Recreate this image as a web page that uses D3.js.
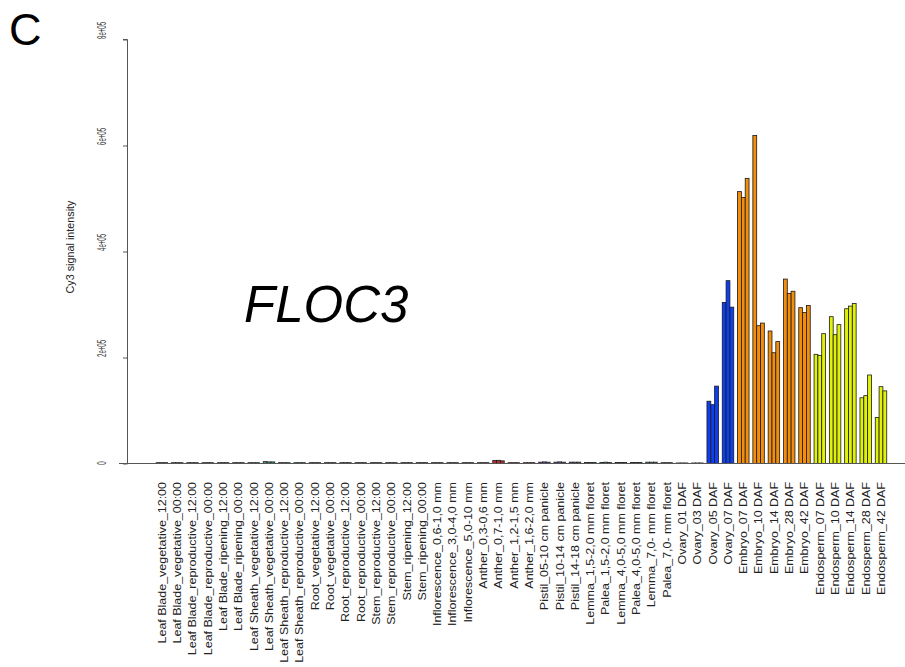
<!DOCTYPE html>
<html>
<head>
<meta charset="utf-8">
<script src="https://cdn.jsdelivr.net/npm/d3@7"></script>
<style>
  html, body { margin: 0; padding: 0; background: #fff; }
  svg { display: block; }
  text { font-family: "Liberation Sans", Arial, sans-serif; }
</style>
</head>
<body>
<svg id="chart" width="905" height="667"></svg>
<script>
const categories = [
  "Leaf Blade_vegetative_12:00","Leaf Blade_vegetative_00:00",
  "Leaf Blade_reproductive_12:00","Leaf Blade_reproductive_00:00",
  "Leaf Blade_ripening_12:00","Leaf Blade_ripening_00:00",
  "Leaf Sheath_vegetative_12:00","Leaf Sheath_vegetative_00:00",
  "Leaf Sheath_reproductive_12:00","Leaf Sheath_reproductive_00:00",
  "Root_vegetative_12:00","Root_vegetative_00:00",
  "Root_reproductive_12:00","Root_reproductive_00:00",
  "Stem_reproductive_12:00","Stem_reproductive_00:00",
  "Stem_ripening_12:00","Stem_ripening_00:00",
  "Inflorescence_0,6-1,0 mm","Inflorescence_3,0-4,0 mm","Inflorescence_5,0-10 mm",
  "Anther_0,3-0,6 mm","Anther_0,7-1,0 mm","Anther_1,2-1,5 mm","Anther_1,6-2,0 mm",
  "Pistil_05-10 cm panicle","Pistil_10-14 cm panicle","Pistil_14-18 cm panicle",
  "Lemma_1,5-2,0 mm floret","Palea_1,5-2,0 mm floret",
  "Lemma_4,0-5,0 mm floret","Palea_4,0-5,0 mm floret",
  "Lemma_7,0- mm floret","Palea_7,0- mm floret",
  "Ovary_01 DAF","Ovary_03 DAF","Ovary_05 DAF","Ovary_07 DAF",
  "Embryo_07 DAF","Embryo_10 DAF","Embryo_14 DAF","Embryo_28 DAF","Embryo_42 DAF",
  "Endosperm_07 DAF","Endosperm_10 DAF","Endosperm_14 DAF","Endosperm_28 DAF","Endosperm_42 DAF"
];

// three replicates per sample (Cy3 signal intensity)
const rep1 = [1500,1500,1500,1500,1500,1500,1500,3500,1500,1500,
              1500,1500,1500,1500,1500,1500,1500,1500,1500,1500,
              1500,1500,5500,1500,1500,2500,2500,2500,2000,2000,
              2000,2000,2500,1500,1000,1000,
              117500,304000,513000,619000,250000,348000,294000,
              206000,277000,292000,124000,87000];
const rep2 = [1500,1500,1500,1500,1500,1500,1500,3000,1500,1500,
              1500,1500,1500,1500,1500,1500,1500,1500,1500,1500,
              1500,1500,6000,1500,1500,3000,3000,2500,2000,2500,
              2000,2000,2500,1500,1000,1000,
              111000,345000,502000,260000,209000,321000,285000,
              204000,243000,297000,128000,145000];
const rep3 = [1500,1500,1500,1500,1500,1500,1500,3000,1500,1500,
              1500,1500,1500,1500,1500,1500,1500,1500,1500,1500,
              1500,1500,5000,1500,1500,2500,2500,2500,2000,2000,
              2000,2000,2500,1500,1000,1000,
              146000,295000,538000,265000,230000,325000,298000,
              245000,262000,302000,167000,137000];

const groupColors = [
  "#2a6b2a","#2a6b2a","#2a6b2a","#2a6b2a","#2a6b2a","#2a6b2a",
  "#3aa06a","#3aa06a","#3aa06a","#3aa06a",
  "#5a4030","#5a4030","#5a4030","#5a4030",
  "#404040","#404040","#404040","#404040",
  "#505050","#505050","#505050",
  "#b03030","#b03030","#b03030","#b03030",
  "#6a4aa0","#6a4aa0","#6a4aa0",
  "#4a8a8a","#4a8a8a","#4a8a8a","#4a8a8a","#4a8a8a","#4a8a8a",
  "#0d3ff0","#0d3ff0","#0d3ff0","#0d3ff0",
  "#f28e0c","#f28e0c","#f28e0c","#f28e0c","#f28e0c",
  "#e0f20a","#e0f20a","#e0f20a","#e0f20a","#e0f20a"
];

const yTicks = [0, 200000, 400000, 600000, 800000];
const yTickLabels = ["0", "2e+05", "4e+05", "6e+05", "8e+05"];
const replicates = ["r1", "r2", "r3"];

const svg = d3.select("#chart");

const x0 = d3.scaleBand().domain(categories)
  .range([154.25, 888.65]).paddingInner(0.25).paddingOuter(0.125);
const x1 = d3.scaleBand().domain(replicates).range([0, x0.bandwidth()]).padding(0);
const y = d3.scaleLinear().domain([0, 800000]).range([463.5, 39.5]);

const data = categories.map((c, i) => ({
  cat: c, color: groupColors[i],
  vals: [rep1[i], rep2[i], rep3[i]]
}));

// bars
const g = svg.append("g");
data.forEach(d => {
  g.selectAll(null).data(d.vals).enter().append("rect")
    .attr("x", (v, j) => x0(d.cat) + x1(replicates[j]))
    .attr("width", x1.bandwidth())
    .attr("y", v => y(v))
    .attr("height", v => y(0) - y(v))
    .attr("fill", d.color)
    .attr("stroke", "#1a1a1a")
    .attr("stroke-width", 0.8);
});

// baseline
svg.append("line")
  .attr("x1", 119).attr("x2", 905)
  .attr("y1", y(0)).attr("y2", y(0))
  .attr("stroke", "#555").attr("stroke-width", 1);

// y axis
const yAxis = d3.axisLeft(y).tickValues(yTicks).tickSize(4.5).tickFormat("");
const ya = svg.append("g").attr("transform", "translate(127.5,0)").call(yAxis);
ya.select(".domain").attr("stroke", "#555").attr("d", `M-4.5,${y(800000)}H0V${y(0)}H-4.5`);
ya.selectAll(".tick line").attr("stroke", "#555");

yTicks.forEach((t, i) => {
  svg.append("text")
    .attr("transform", `translate(105.5,${y(t) - 0.5}) rotate(-90) scale(0.47,1)`)
    .attr("text-anchor", yTickLabels[i].length === 1 ? "middle" : "start")
    .attr("font-size", 13)
    .attr("fill", "#444")
    .text(yTickLabels[i]);
});

// y label
svg.append("text")
  .attr("transform", "translate(74,247) rotate(-90)")
  .attr("text-anchor", "middle")
  .attr("font-size", 10.8)
  .attr("fill", "#222")
  .text("Cy3 signal intensity");

// x labels
categories.forEach(c => {
  const cx = x0(c) + x0.bandwidth() / 2;
  svg.append("text")
    .attr("transform", `translate(${cx + 3.8},482) rotate(-90) scale(1.2,1)`)
    .attr("text-anchor", "end")
    .attr("font-size", 10.4)
    .attr("fill", "#222")
    .text(c);
});

// panel letter
svg.append("text")
  .attr("x", 9).attr("y", 45)
  .attr("font-size", 45)
  .attr("fill", "#000")
  .text("C");

// gene name
svg.append("text")
  .attr("x", 244).attr("y", 322)
  .attr("font-size", 51)
  .attr("font-style", "italic")
  .attr("fill", "#000")
  .text("FLOC3");
</script>
</body>
</html>
